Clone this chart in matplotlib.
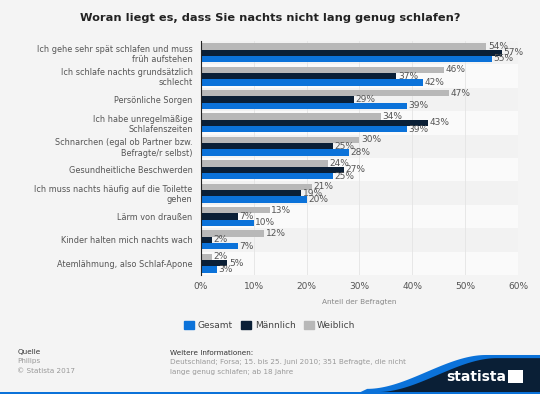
import matplotlib
matplotlib.use("Agg")
import matplotlib.pyplot as plt
from matplotlib.patches import Polygon, Rectangle
import numpy as np

categories = [
    "Ich gehe sehr spät schlafen und muss\nfrüh aufstehen",
    "Ich schlafe nachts grundsätzlich\nschlecht",
    "Persönliche Sorgen",
    "Ich habe unregelmäßige\nSchlafenszeiten",
    "Schnarchen (egal ob Partner bzw.\nBefragte/r selbst)",
    "Gesundheitliche Beschwerden",
    "Ich muss nachts häufig auf die Toilette\ngehen",
    "Lärm von draußen",
    "Kinder halten mich nachts wach",
    "Atemlähmung, also Schlaf-Apone",
]
gesamt = [55, 42, 39, 39, 28, 25, 20, 10, 7, 3]
maennlich = [57, 37, 29, 43, 25, 27, 19, 7, 2, 5]
weiblich = [54, 46, 47, 34, 30, 24, 21, 13, 12, 2]
xticks = [0, 10, 20, 30, 40, 50, 60]

c_ges = "#0b72d9"
c_man = "#0a1f36"
c_wei = "#b8b8b8"
txt = "#555555"

fig = plt.figure(figsize=(5.4, 3.94), dpi=100)
fig.patch.set_facecolor("#f4f4f4")
ax = fig.add_axes([0.3722, 0.302, 0.587, 0.594])
ax.set_facecolor("#f4f4f4")

n = len(categories)
y = np.arange(n)
h = 0.27

# alternating row stripes
for i in range(n):
    ax.axhspan(i - 0.5, i + 0.5, color="#fafafa" if i % 2 else "#f2f2f2", zorder=0, lw=0)

for v in xticks[1:]:
    ax.axvline(v, color="#e4e4e4", lw=0.6, zorder=1)

series = [(weiblich, c_wei, -h), (maennlich, c_man, 0), (gesamt, c_ges, h)]
for vals, col, off in series:
    ax.barh(y + off, vals, height=h, color=col, zorder=2)
    for yi, v in zip(y, vals):
        ax.text(v + 0.3, yi + off, f"{v}%", va="center", ha="left",
                fontsize=6.5, color=txt, zorder=3)

ax.set_ylim(n - 0.5, -0.5)
ax.set_xlim(0, 60)
ax.set_yticks(y)
ax.set_yticklabels(categories, fontsize=5.9, color=txt)
ax.set_xticks(xticks)
ax.set_xticklabels([f"{v}%" for v in xticks], fontsize=6.5, color=txt)
ax.tick_params(axis="y", length=0, pad=6)
ax.tick_params(axis="x", length=0, pad=5)
for s in ["top", "right", "bottom"]:
    ax.spines[s].set_visible(False)
ax.spines["left"].set_color("#222222")
ax.spines["left"].set_linewidth(0.8)
ax.set_xlabel("Anteil der Befragten", fontsize=5.3, color="#888888", labelpad=6)

fig.text(0.5, 0.955, "Woran liegt es, dass Sie nachts nicht lang genug schlafen?",
         ha="center", va="center", fontsize=8.2, fontweight="bold", color="#222222")

# legend
handles = [Rectangle((0, 0), 1, 1, color=c) for c in (c_ges, c_man, c_wei)]
fig.legend(handles, ["Gesamt", "Männlich", "Weiblich"], loc="center",
           bbox_to_anchor=(0.5, 0.174), ncol=3, frameon=False, fontsize=6.5,
           handlelength=1.1, handleheight=1.1, handletextpad=0.4, columnspacing=0.9,
           labelcolor="#444444")

# footer
fig.text(0.032, 0.107, "Quelle", fontsize=5.2, color="#333333", va="center")
fig.text(0.032, 0.083, "Philips", fontsize=5.2, color="#999999", va="center")
fig.text(0.032, 0.059, "© Statista 2017", fontsize=5.2, color="#999999", va="center")
fig.text(0.315, 0.104, "Weitere Informationen:", fontsize=5.2, color="#333333", va="center")
fig.text(0.315, 0.080, "Deutschland; Forsa; 15. bis 25. Juni 2010; 351 Befragte, die nicht",
         fontsize=5.2, color="#999999", va="center")
fig.text(0.315, 0.056, "lange genug schlafen; ab 18 Jahre", fontsize=5.2, color="#999999", va="center")

# statista logo wave
xs = np.linspace(0.68, 0.90, 50)
t = (xs - 0.68) / 0.22
wave = 0.005 + 0.086 * (3 * t ** 2 - 2 * t ** 3)
blue_pts = [(0.66, 0.0)] + list(zip(xs, wave + 0.008)) + [(1.0, 0.099), (1.0, 0.0)]
navy_pts = [(0.70, 0.0)] + list(zip(xs + 0.02, wave)) + [(1.0, 0.091), (1.0, 0.0)]
fig.patches.append(Polygon(blue_pts, closed=True, transform=fig.transFigure,
                           facecolor="#0b72d9", edgecolor="none"))
fig.patches.append(Polygon(navy_pts, closed=True, transform=fig.transFigure,
                           facecolor="#0a1f36", edgecolor="none"))
fig.patches.append(Rectangle((0, 0), 1, 0.006, transform=fig.transFigure,
                             facecolor="#0b72d9", edgecolor="none"))
fig.text(0.937, 0.043, "statista", fontsize=10, fontweight="bold", color="white",
         ha="right", va="center")
fig.patches.append(Rectangle((0.941, 0.028), 0.027, 0.032, transform=fig.transFigure,
                             facecolor="white", edgecolor="none"))

fig.savefig("out.png", dpi=100, facecolor=fig.get_facecolor())
